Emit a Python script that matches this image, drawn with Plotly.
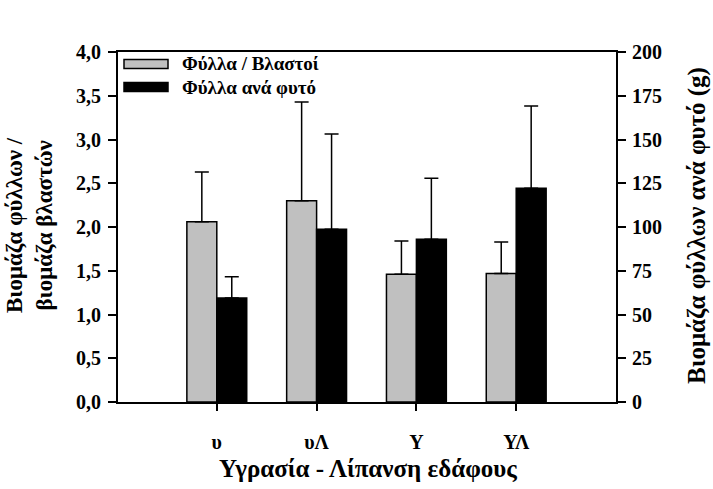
import plotly.graph_objects as go

categories = ["υ", "υΛ", "Υ", "ΥΛ"]
ratio_name = "Φύλλα / Βλαστοί"
ratio_vals = [2.06, 2.30, 1.46, 1.47]
ratio_err = [0.57, 1.13, 0.38, 0.36]
plant_name = "Φύλλα ανά φυτό"
plant_vals = [59.4, 98.7, 93.0, 122.1]
plant_err = [12.2, 54.4, 34.8, 47.0]

FONT = "Liberation Serif"
L, R, T, B = 118, 97, 52, 87
W, H = 713, 489
pw, ph = W - L - R, H - T - B

def px(x):
    return (x - L) / pw

def py(y):
    return (H - B - y) / ph

fig = go.Figure()
fig.add_trace(go.Bar(
    x=categories, y=ratio_vals, name=ratio_name, offsetgroup="a",
    marker=dict(color="#c0c0c0", line=dict(color="black", width=1.5)),
    error_y=dict(type="data", symmetric=False, array=ratio_err,
                 arrayminus=[0] * len(ratio_err), color="black",
                 thickness=1.5, width=7),
    yaxis="y", showlegend=False))
fig.add_trace(go.Bar(
    x=categories, y=plant_vals, name=plant_name, offsetgroup="b",
    marker=dict(color="black", line=dict(color="black", width=1.5)),
    error_y=dict(type="data", symmetric=False, array=plant_err,
                 arrayminus=[0] * len(plant_err), color="black",
                 thickness=1.5, width=7),
    yaxis="y2", showlegend=False))

tickfont = dict(family=FONT, size=20, color="black", weight="bold")

fig.update_layout(
    width=W, height=H, margin=dict(l=L, r=R, t=T, b=B),
    paper_bgcolor="white", plot_bgcolor="white",
    separators=",.",
    barmode="group", bargap=0.4, bargroupgap=0,
    xaxis=dict(range=[-0.99, 4.0], showline=True, linecolor="black",
               linewidth=2, mirror=True, ticks="outside", ticklen=7,
               tickwidth=1.5, tickcolor="black", tickfont=tickfont,
               ticklabelstandoff=14,
               showgrid=False, zeroline=False),
    yaxis=dict(range=[0, 4], dtick=0.5, tickformat=".1f", showline=True,
               linecolor="black", linewidth=2, ticks="outside", ticklen=8,
               tickwidth=1.5, tickcolor="black", tickfont=tickfont,
               ticklabelstandoff=3,
               showgrid=False, zeroline=False),
    yaxis2=dict(range=[0, 200], dtick=25, overlaying="y", side="right",
                showline=True, linecolor="black", linewidth=2,
                ticks="outside", ticklen=8, tickwidth=1.5, tickcolor="black",
                tickfont=tickfont, ticklabelstandoff=2,
                showgrid=False, zeroline=False),
)

# manual legend
shapes = []
ann = []
for name, color, yc in [(ratio_name, "#c0c0c0", 64), (plant_name, "black", 87)]:
    shapes.append(dict(type="rect", xref="paper", yref="paper",
                       x0=px(124), x1=px(168), y0=py(yc + 4.5), y1=py(yc - 4.5),
                       fillcolor=color, line=dict(color="black", width=1.5)))
    ann.append(dict(text=name, xref="paper", yref="paper", x=px(180), y=py(yc),
                    xanchor="left", yanchor="middle", showarrow=False,
                    font=dict(family=FONT, size=19, color="black", weight="bold")))

ann.append(dict(text="Βιομάζα φύλλων /<br>βιομάζα βλαστών", xref="paper",
                yref="paper", x=px(29), y=py(225), xanchor="center",
                yanchor="middle", textangle=-90, showarrow=False,
                font=dict(family=FONT, size=23, color="black", weight="bold")))
ann.append(dict(text="Βιομάζα φύλλων ανά φυτό (g)", xref="paper",
                yref="paper", x=px(697), y=py(226), xanchor="center",
                yanchor="middle", textangle=-90, showarrow=False,
                font=dict(family=FONT, size=25, color="black", weight="bold")))
ann.append(dict(text="Υγρασία - Λίπανση εδάφους", xref="paper",
                yref="paper", x=px(368), y=py(468), xanchor="center",
                yanchor="middle", showarrow=False,
                font=dict(family=FONT, size=25, color="black", weight="bold")))

fig.update_layout(shapes=shapes, annotations=ann)
fig.write_html("out.html")
